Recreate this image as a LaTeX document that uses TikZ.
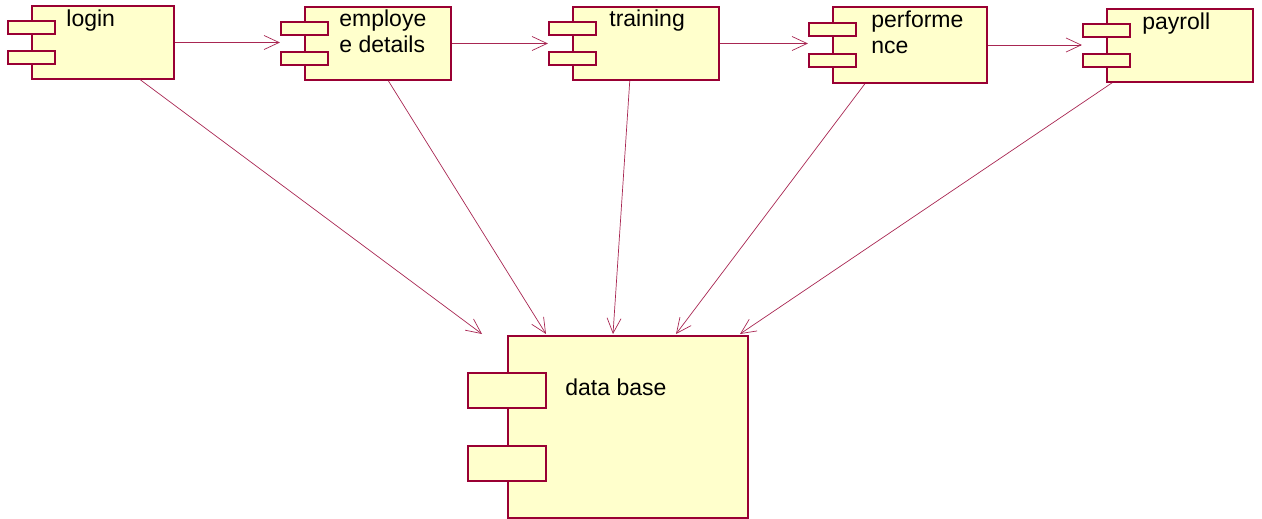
\documentclass[tikz,border=0pt]{standalone}
\usepackage{fontspec}
\setmainfont{Liberation Sans}
\usetikzlibrary{arrows.meta,calc}
\definecolor{roseLine}{HTML}{990033}
\definecolor{roseFill}{HTML}{FFFFCC}

\begin{document}
\begin{tikzpicture}[x=1pt, y=-1pt, >={Straight Barb[length=15pt,width=14pt]},
  comp/.style={rectangle, draw=roseLine, line width=1.6pt, fill=roseFill, inner sep=0pt},
  tab/.style={comp, minimum width=47pt, minimum height=13pt},
  bigtab/.style={comp, minimum width=78pt, minimum height=35pt},
  comptext/.style={anchor=base west, inner sep=0pt, align=left, font=\fontsize{23}{26}\selectfont},
  link/.style={->, draw=roseLine!85, line width=0.7pt}]

  \useasboundingbox (0,0) rectangle (1262,519);

  % components
  \node[comp, minimum width=142pt, minimum height=73pt] (login) at (103,42.5) {};
  \node[comp, minimum width=146pt, minimum height=73pt] (emp)   at (378,43.5) {};
  \node[comp, minimum width=146pt, minimum height=73pt] (train) at (646,43.5) {};
  \node[comp, minimum width=154pt, minimum height=76pt] (perf)  at (910,45) {};
  \node[comp, minimum width=146pt, minimum height=73pt] (pay)   at (1180,45.5) {};
  \node[comp, minimum width=240pt, minimum height=182pt] (db)   at (628,427) {};

  % tabs
  \foreach \c in {login,emp,train,perf,pay} {
    \node[tab] (\c A) at ($(\c.north west)!.3!(\c.south west)$) {};
    \node[tab] (\c B) at ($(\c.north west)!.7!(\c.south west)$) {};
  }
  \node[bigtab] (dbA) at ($(db.north west)!.3!(db.south west)$) {};
  \node[bigtab] (dbB) at ($(db.north west)!.7!(db.south west)$) {};

  % labels (base = last line)
  \node[comptext] (loginText) at ($(login.north west)+(35,21)$) {login};
  \node[comptext] (empText)   at ($(emp.north west)+(35,46)$)   {employe\\e details};
  \node[comptext] (trainText) at ($(train.north west)+(37,20)$) {training};
  \node[comptext] (perfText)  at ($(perf.north west)+(39,47)$)  {performe\\nce};
  \node[comptext] (payText)   at ($(pay.north west)+(36,21)$)   {payroll};
  \node[comptext] (dbText)    at ($(db.north west)+(58,60)$)    {data base};

  % free ends above the data base
  \coordinate (dbIn1) at (482,334);
  \coordinate (dbIn2) at (546,334);
  \coordinate (dbIn3) at (613,334);
  \coordinate (dbIn4) at (676,334);
  \coordinate (dbIn5) at (740,334);

  \path (login.east) edge[link] (login.east -| empA.west)
        (emp.east)   edge[link] (emp.east -| trainA.west)
        (train.east) edge[link] (train.east -| perfA.west)
        (perf.east)  edge[link] (perf.east -| payA.west);

  \path ($(login.south west)!.76!(login.south east)$) edge[link] (dbIn1)
        ($(emp.south west)!.57!(emp.south east)$)     edge[link] (dbIn2)
        ($(train.south west)!.39!(train.south east)$) edge[link] (dbIn3)
        ($(perf.south west)!.21!(perf.south east)$)   edge[link] (dbIn4)
        ($(pay.south west)!.04!(pay.south east)$)     edge[link] (dbIn5);

\end{tikzpicture}
\end{document}
